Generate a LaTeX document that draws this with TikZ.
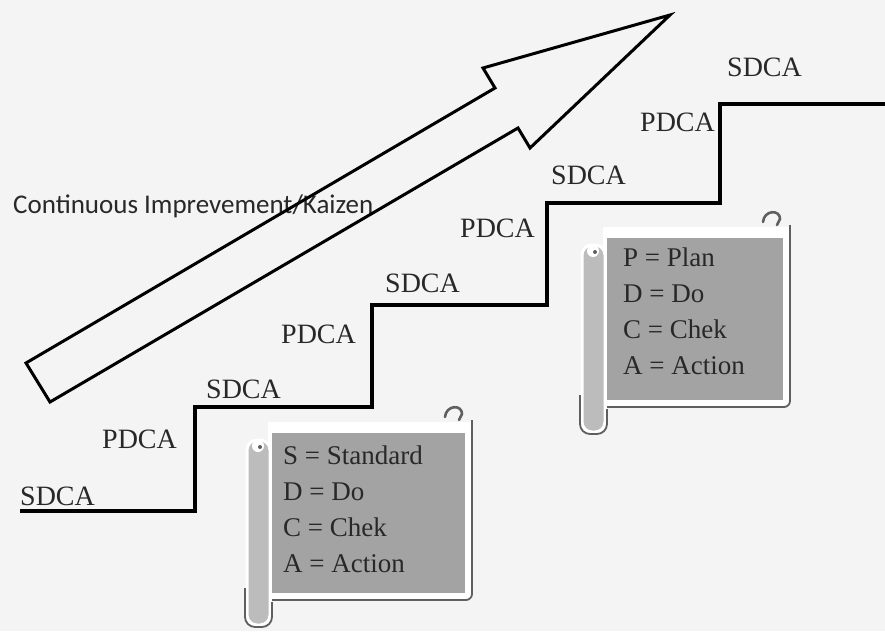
\documentclass[tikz,border=0pt]{standalone}
\usepackage{fontspec}
\setmainfont{Liberation Serif}
\newfontfamily\kaizenfont{Carlito}
\usetikzlibrary{calc}
\usetikzlibrary{positioning}

\definecolor{paper}{RGB}{244,244,245}
\definecolor{ink}{RGB}{40,40,40}
\definecolor{scrollgray}{RGB}{163,163,163}
\definecolor{rollgray}{RGB}{188,188,188}
\definecolor{rim}{RGB}{95,95,95}

\begin{document}
\begin{tikzpicture}[x=1pt,y=-1pt,%
  cycle/.style={inner sep=0pt,
                anchor=base west,
                text=ink,
                font=\fontsize{28}{30}\selectfont
  },
  entry/.style={inner sep=0pt,
                anchor=base west,
                text=ink,
                font=\fontsize{27}{29}\selectfont
  },
  stair/.style={line width=3.8pt, line join=miter},
  pics/scroll/.style 2 args={code={
     \fill[white] (-2,-8) rectangle (#1,#2);
     \fill[scrollgray] (2,3) rectangle (#1-7,#2-7);
     \draw[rim, line width=1.8pt, rounded corners=6pt]
        (#1,-10) -- (#1,#2) -- (2,#2);
     \draw[rim, line width=2.6pt, line cap=round]
        (#1-27,-13) .. controls (#1-26,-25) and (#1-10,-26) .. (#1-10,-16)
        -- (#1-13,-10);
     \filldraw[fill=rollgray, draw=white, line width=3pt, rounded corners=10pt]
        (-23,10) -- (-23,#2+25) -- (0,#2+25) -- (0,10) -- cycle;
     \draw[rim, line width=1.8pt, rounded corners=10pt]
        (-25,#2-12) -- (-25,#2+27) -- (2,#2+27) -- (2,#2+2);
     \fill[white] (-12,16) circle (6);
     \fill[rim] (-10,17) circle (2);
  }}
]
\useasboundingbox (0,0) rectangle (885,631);
\fill[paper] (0,0) rectangle (885,631);

% the staircase
\draw[stair] (20,511) -- (195,511) -- (195,407) -- (372,407) -- (372,305)
   -- (547,305) -- (547,203) -- (720,203) -- (720,104) -- (885,104);

\node[cycle] (sdca1) at (20,505) {SDCA};
\node[cycle] (pdca1) at (102,448) {PDCA};
\node[cycle] (sdca2) at (206,398) {SDCA};
\node[cycle] (pdca2) at (281,343) {PDCA};
\node[cycle] (sdca3) at (385,292) {SDCA};
\node[cycle] (pdca3) at (460,237) {PDCA};
\node[cycle] (sdca4) at (551,184) {SDCA};
\node[cycle] (pdca4) at (640,132) {PDCA};
\node[cycle] (sdca5) at (727,77) {SDCA};

% the big arrow
\node[inner sep=0pt, anchor=base west, text=ink,
      font=\kaizenfont\fontsize{27}{29}\selectfont] (kaizen)
   at (13,213) {Continuous Imprevement/Kaizen};
\draw[line width=3pt] (26,363) -- (495,88) -- (483,68) -- (670,15)
   -- (530,148) -- (518,128) -- (50,402) -- cycle;

% the two scrolls
\pic at (270,430) {scroll={202}{170}};
\node[entry] (std1) at (283,464) {S = Standard};
\node[entry] (std2) at ($(std1.base west)+(0,36)$) {D = Do};
\node[entry] (std3) at ($(std2.base west)+(0,36)$) {C = Chek};
\node[entry] (std4) at ($(std3.base west)+(0,36)$) {A = Action};

\pic at (605,235) {scroll={185}{172}};
\node[entry] (plan1) at (623,266) {P = Plan};
\node[entry] (plan2) at ($(plan1.base west)+(0,36)$) {D = Do};
\node[entry] (plan3) at ($(plan2.base west)+(0,36)$) {C = Chek};
\node[entry] (plan4) at ($(plan3.base west)+(0,36)$) {A = Action};

\end{tikzpicture}
\end{document}
